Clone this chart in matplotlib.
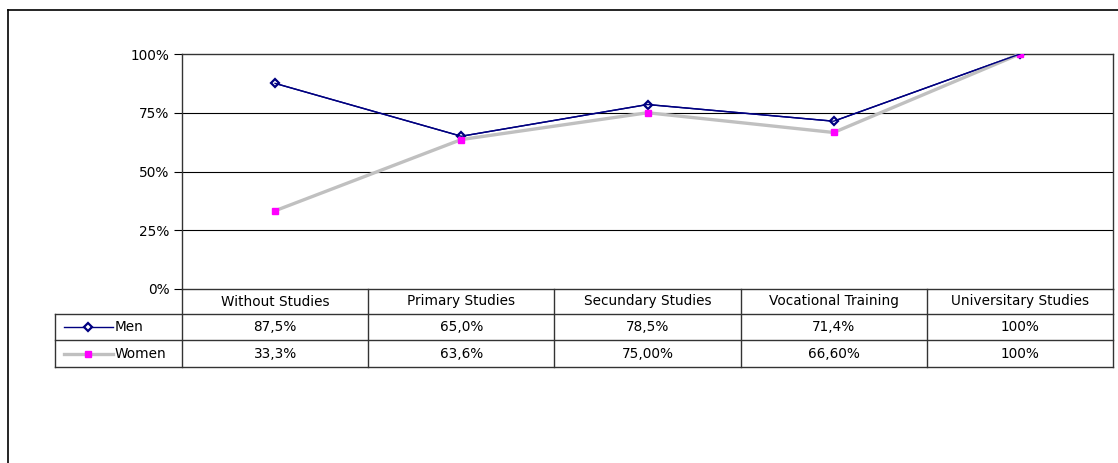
import matplotlib.pyplot as plt
from matplotlib.lines import Line2D
from matplotlib.transforms import blended_transform_factory

categories = ['Without Studies', 'Primary Studies', 'Secundary Studies',
              'Vocational Training', 'Universitary Studies']
men = [87.5, 65.0, 78.5, 71.4, 100.0]
women = [33.3, 63.6, 75.0, 66.6, 100.0]
men_labels = ['87,5%', '65,0%', '78,5%', '71,4%', '100%']
women_labels = ['33,3%', '63,6%', '75,00%', '66,60%', '100%']

W, H = 1118, 463
fig = plt.figure(figsize=(W / 100, H / 100), dpi=100)
plt.rcParams['font.family'] = ['DejaVu Sans']
fs = 9.8

# plot area in pixels
left, right, top, bottom = 182, 1113, 54, 289
ax = fig.add_axes([left / W, 1 - bottom / H, (right - left) / W, (bottom - top) / H])

x = list(range(len(categories)))
ax.plot(x, men, color='#000080', lw=1, marker='D', ms=4.3,
        mfc='white', mec='#000080', mew=1.6, zorder=3)
ax.plot(x, women, color='#c0c0c0', lw=2.4, marker='s', ms=5,
        mfc='#ff00ff', mec='#ff00ff', zorder=4)
# men line stays visible above the gray line except where points coincide
ax.plot(x, men, color='#000080', lw=1, zorder=5)

ax.set_xlim(-0.5, len(categories) - 0.5)
ax.set_ylim(0, 100)
ax.set_yticks([0, 25, 50, 75, 100])
ax.set_yticklabels(['0%', '25%', '50%', '75%', '100%'], fontsize=fs)
ax.set_xticks([])
for v in [25, 50, 75]:
    ax.axhline(v, color='black', lw=0.8, zorder=1)
for s in ax.spines.values():
    s.set_color('#333333')
    s.set_linewidth(1.0)
ax.tick_params(axis='y', length=6, width=0.8, pad=3)

# data table under the plot
tr = blended_transform_factory(ax.transData, ax.transAxes)
ph = bottom - top
rows = [0, -25 / ph, -51 / ph, -78 / ph]
x0 = -0.5 - 127 / 186
xr = len(categories) - 0.5
lc = '#333333'

def hline(xa, xb, y):
    ax.add_line(Line2D([xa, xb], [y, y], transform=tr, color=lc, lw=1, clip_on=False))

def vline(xv, ya, yb):
    ax.add_line(Line2D([xv, xv], [ya, yb], transform=tr, color=lc, lw=1, clip_on=False))

hline(x0, xr, rows[1])
hline(x0, xr, rows[2])
hline(x0, xr, rows[3])
vline(x0, rows[1], rows[3])
for i in range(len(categories) + 1):
    vline(i - 0.5, rows[0], rows[3])

for i, c in enumerate(categories):
    ax.text(i, (rows[0] + rows[1]) / 2, c, transform=tr, ha='center', va='center', fontsize=fs)
    ax.text(i, (rows[1] + rows[2]) / 2, men_labels[i], transform=tr, ha='center', va='center', fontsize=fs)
    ax.text(i, (rows[2] + rows[3]) / 2, women_labels[i], transform=tr, ha='center', va='center', fontsize=fs)

# legend keys inside the table
ym = (rows[1] + rows[2]) / 2
yw = (rows[2] + rows[3]) / 2
kx = [x0 + 9 / 186, x0 + 58 / 186]
ax.add_line(Line2D(kx, [ym, ym], transform=tr, color='#000080', lw=1, clip_on=False))
ax.add_line(Line2D([sum(kx) / 2], [ym], transform=tr, marker='D', ms=4.3, mfc='white',
                   mec='#000080', mew=1.6, clip_on=False))
ax.add_line(Line2D(kx, [yw, yw], transform=tr, color='#c0c0c0', lw=2.4, clip_on=False))
ax.add_line(Line2D([sum(kx) / 2], [yw], transform=tr, marker='s', ms=5, mfc='#ff00ff',
                   mec='#ff00ff', clip_on=False))
ax.text(x0 + 60 / 186, ym, 'Men', transform=tr, ha='left', va='center', fontsize=fs)
ax.text(x0 + 60 / 186, yw, 'Women', transform=tr, ha='left', va='center', fontsize=fs)

# outer chart frame
fig.add_artist(Line2D([8 / W, 8 / W], [0, 1 - 10 / H], color='black', lw=1.2))
fig.add_artist(Line2D([8 / W, 1], [1 - 10 / H, 1 - 10 / H], color='black', lw=1.2))

fig.savefig('out.png', dpi=100)
